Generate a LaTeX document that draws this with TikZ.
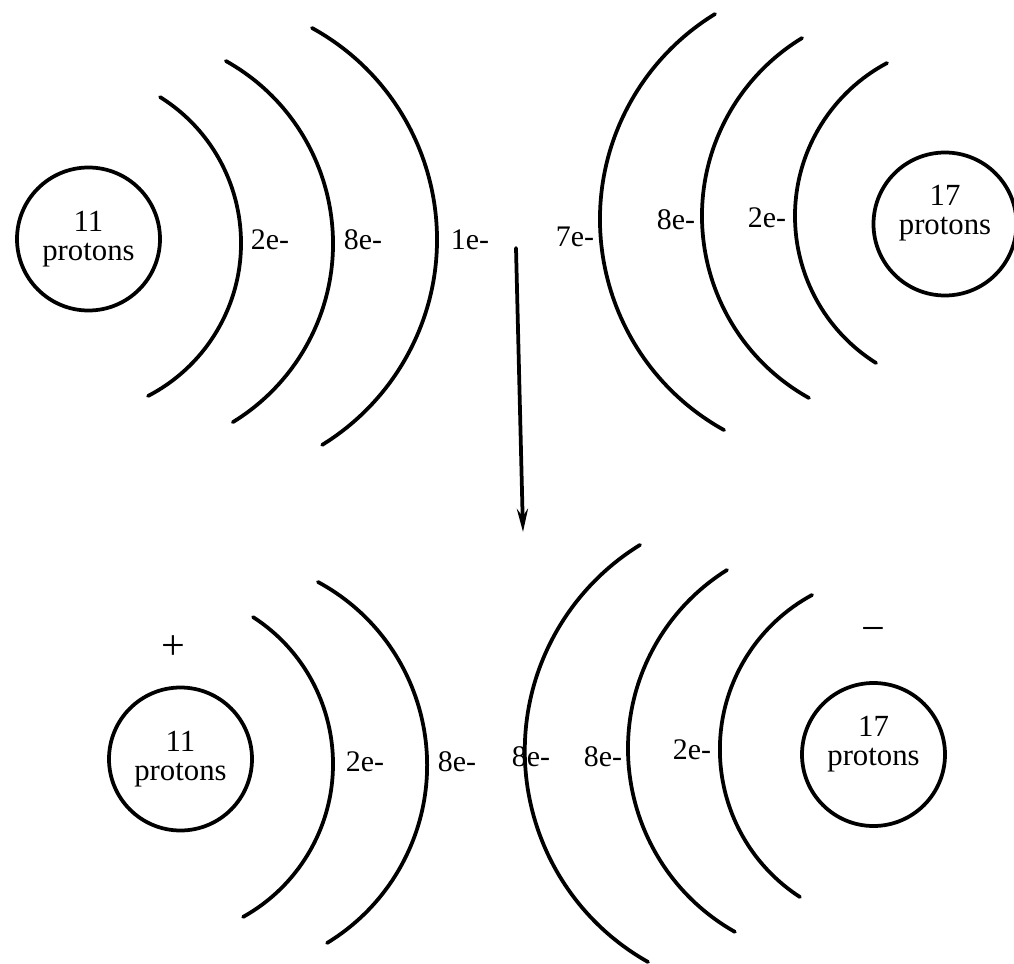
\documentclass[tikz,border=0pt]{standalone}
\usepackage{fontspec}
\setmainfont{Liberation Serif}
\usetikzlibrary{arrows.meta}
\begin{document}
\begin{tikzpicture}[x=0.2mm,y=-0.2mm,line width=0.75mm,line cap=round,
  nucleus/.style={draw,circle,minimum size=28.6mm,inner sep=0pt,align=center,font=\fontsize{17.5}{16.5}\selectfont},
  shelltxt/.style={inner sep=0pt,font=\fontsize{17}{20}\selectfont},
  signtxt/.style={inner sep=0pt,font=\fontsize{24}{24}\selectfont}]

\useasboundingbox (0,0) rectangle (1014,964);

% sodium atom, before
\node[nucleus] (na) at (88.5,239) {11\\protons};
\draw (68.8,243.1) ++(-58:172.2) arc[start angle=-58, end angle=62.6, radius=172.2];
\draw (123.8,243.6) ++(-60.8:209.2) arc[start angle=-60.8, end angle=58.6, radius=209.2];
\draw (195.7,239.4) ++(-61.2:241.3) arc[start angle=-61.2, end angle=58.4, radius=241.3];
\node[shelltxt] (na1) at (270,240) {2e-};
\node[shelltxt] (na2) at (363,240) {8e-};
\node[shelltxt] (na3) at (470,240) {1e-};

% chlorine atom, before
\node[nucleus,text depth=5.5mm] (cl) at (945,224) {17\\protons};
\draw (840.9,219.4) ++(119:240.9) arc[start angle=119, end angle=238.5, radius=240.9];
\draw (910.3,216) ++(119.1:208.3) arc[start angle=119.1, end angle=238.7, radius=208.3];
\draw (968.5,216.2) ++(122.2:173.5) arc[start angle=122.2, end angle=242, radius=173.5];
\node[shelltxt] (cl3) at (575,237) {7e-};
\node[shelltxt] (cl2) at (676,220) {8e-};
\node[shelltxt] (cl1) at (767,218) {2e-};

% reaction arrow
\coordinate (from) at (516,248);
\coordinate (to) at (523,532);
\draw[-{Stealth[length=4.6mm,width=2.2mm]}] (from) -- (to);

% sodium ion, after
\node[signtxt] (plus) at (173,648) {+};
\node[nucleus] (nap) at (180.5,759) {11\\protons};
\draw (158,764) ++(-57.1:175) arc[start angle=-57.1, end angle=60.9, radius=175];
\draw (218.9,765.1) ++(-61.6:208.2) arc[start angle=-61.6, end angle=58.7, radius=208.2];
\node[shelltxt] (nap1) at (365,762) {2e-};
\node[shelltxt] (nap2) at (457,762) {8e-};

% chloride ion, after
\node[signtxt] (minus) at (873,635) {−};
\node[nucleus,text depth=5.5mm] (clm) at (873.5,754.5) {17\\protons};
\draw (766.9,751.1) ++(119.4:242.1) arc[start angle=119.4, end angle=238.4, radius=242.1];
\draw (838.6,748.6) ++(119.5:210.6) arc[start angle=119.5, end angle=238, radius=210.6];
\draw (895.7,749.6) ++(123:175.8) arc[start angle=123, end angle=241.6, radius=175.8];
\node[shelltxt] (clm3) at (531,757) {8e-};
\node[shelltxt] (clm2) at (603,757) {8e-};
\node[shelltxt] (clm1) at (692,750) {2e-};

\end{tikzpicture}
\end{document}
